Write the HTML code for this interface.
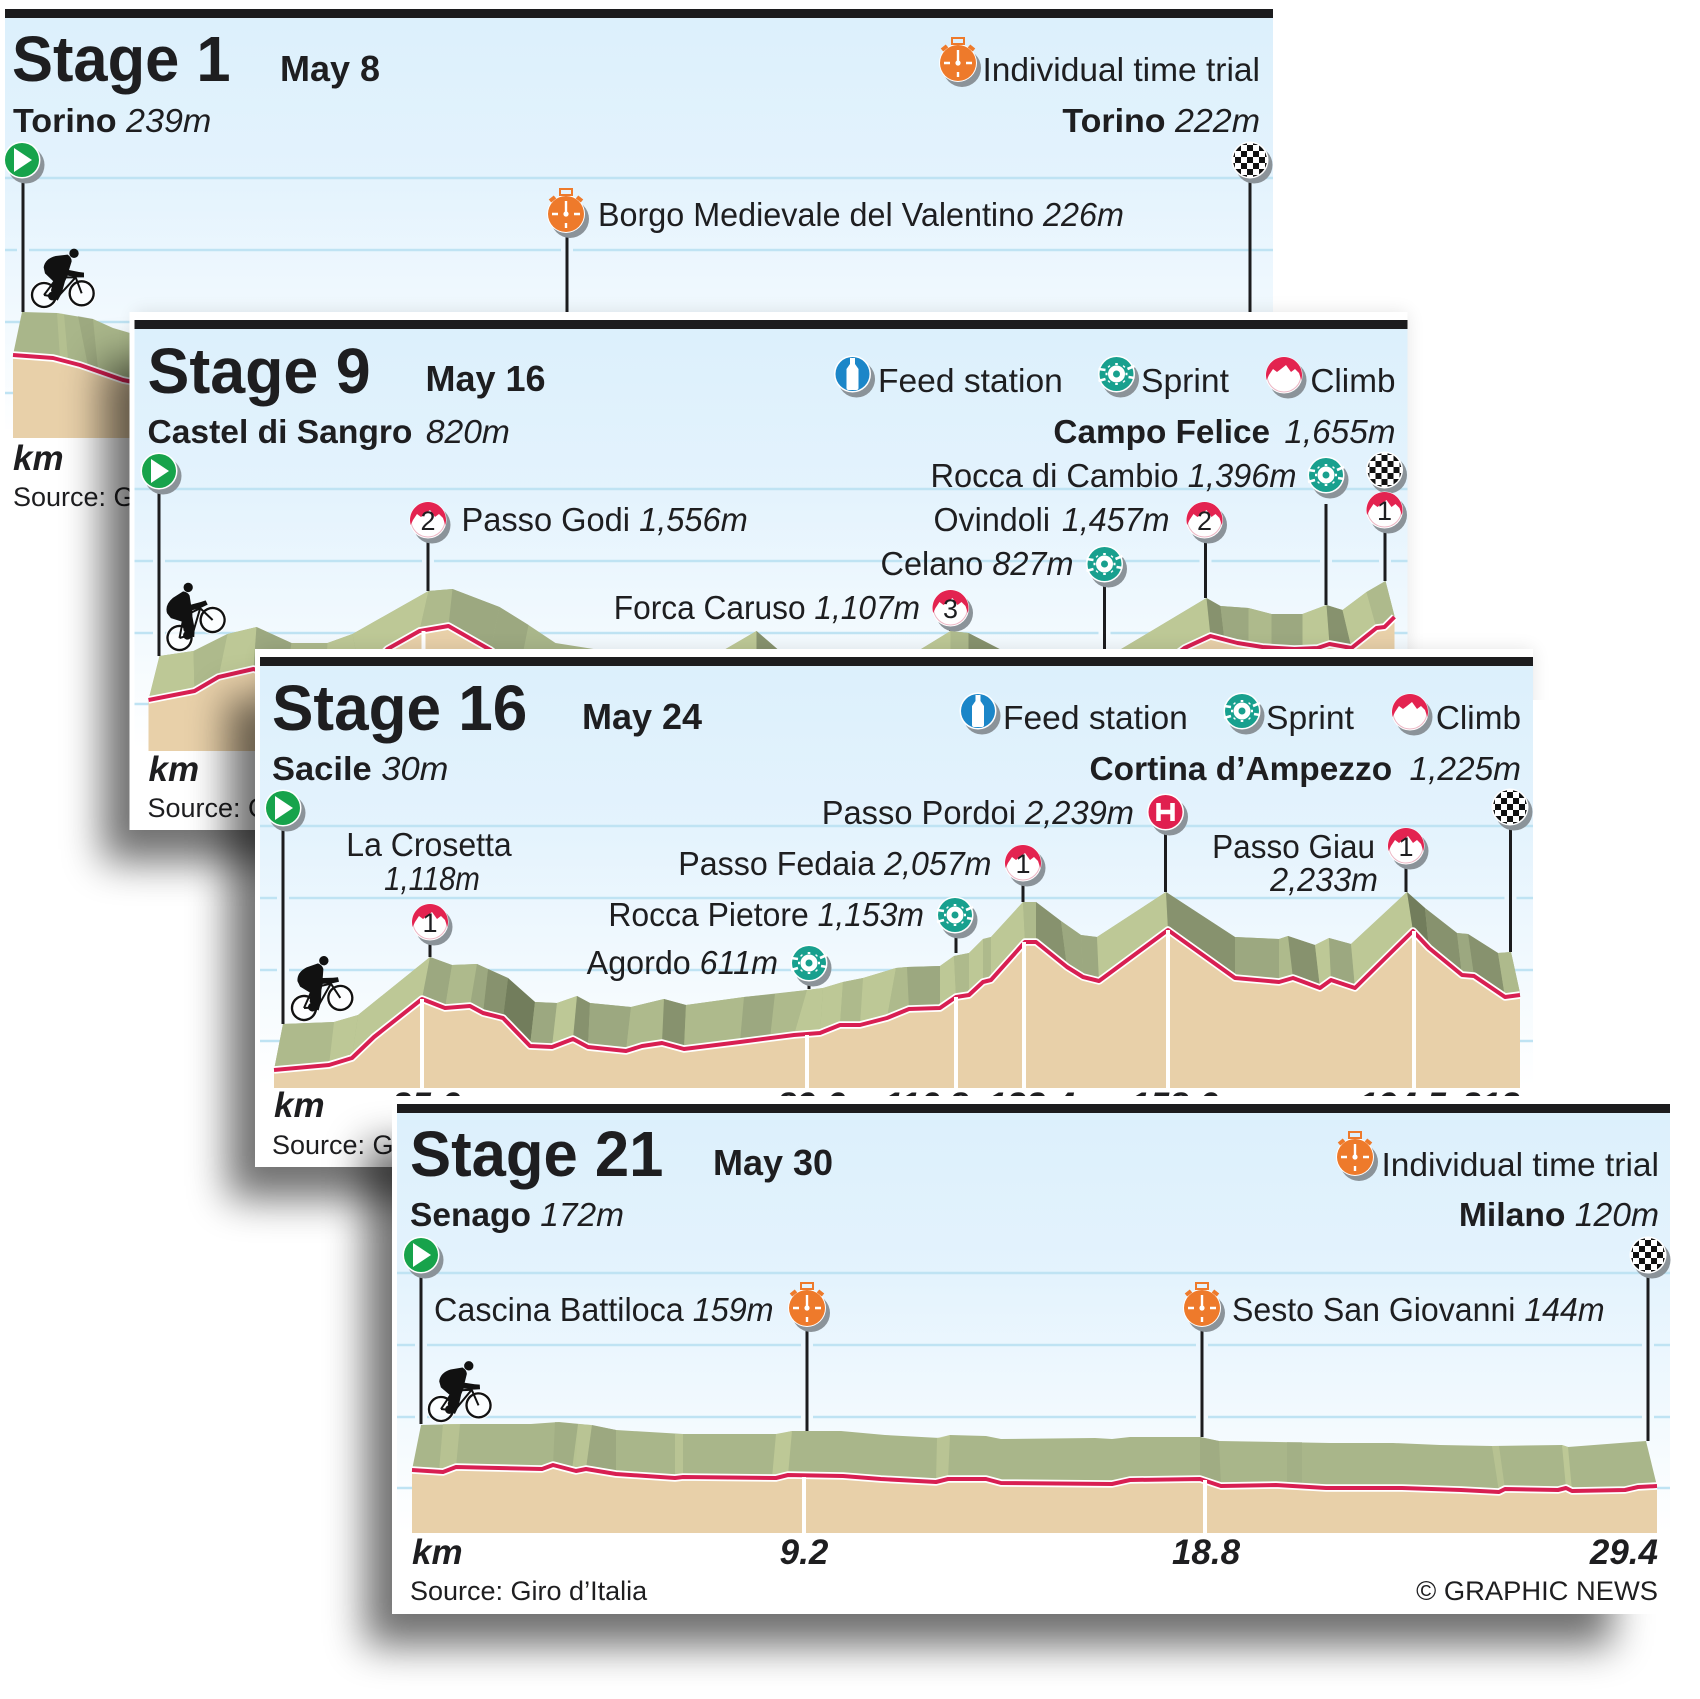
<!DOCTYPE html>
<html><head><meta charset="utf-8"><title>Giro stages</title>
<style>
html,body{margin:0;padding:0;background:#fff}
svg{display:block;font-family:"Liberation Sans",sans-serif}
text{fill:#1e1e20}
.h1{font-size:64px;font-weight:700}
.dt{font-size:36px;font-weight:700}
.r{font-size:33px}
.b{font-weight:700}
.i{font-style:italic}
.ax{font-size:35px;font-weight:700;font-style:italic}
.s{font-size:27px}
.d{font-size:27px;text-anchor:middle}
.e{text-anchor:end}
.m{text-anchor:middle}
.grid{stroke:#bfe3f3;stroke-width:2.5;fill:none}
.halo{stroke:url(#sky);stroke-width:12;fill:none}
.pole{stroke:#1c1c1e;stroke-width:3;fill:none}
.wl{stroke:#fff;stroke-width:4;fill:none}
.tan{fill:#e8d0a9}
.rw{fill:none;stroke:#fff;stroke-width:7.5;stroke-linejoin:round}
.rl{fill:none;stroke:#d81f52;stroke-width:4;stroke-linejoin:round}
.a{fill:#bdc896}.k{fill:#aeba8c}.c{fill:#9ca880}.n{fill:#87926e}.x{fill:#727d5c}
.base{fill:#a9b68a}
</style></head><body>
<svg xmlns="http://www.w3.org/2000/svg" width="1700" height="1699" viewBox="0 0 1700 1699">
<defs>
<linearGradient id="sky" gradientUnits="userSpaceOnUse" x1="0" y1="9" x2="0" y2="429">
<stop offset="0" stop-color="#dcf0fc"/><stop offset=".4" stop-color="#e4f3fd"/><stop offset=".7" stop-color="#f1f9fe"/><stop offset="1" stop-color="#fff"/>
</linearGradient>
<filter id="blur" filterUnits="userSpaceOnUse" x="-200" y="-100" width="1800" height="800"><feGaussianBlur stdDeviation="20"/></filter>
<filter id="blur2" filterUnits="userSpaceOnUse" x="-200" y="-100" width="1800" height="800"><feGaussianBlur stdDeviation="9"/></filter>
<pattern id="chk" patternUnits="userSpaceOnUse" x="-3" y="-3" width="12" height="12"><rect width="12" height="12" fill="#fff"/><rect width="6" height="6" fill="#111"/><rect x="6" y="6" width="6" height="6" fill="#111"/></pattern>
<clipPath id="p1clip"><rect x="7" y="-20" width="1400" height="560"/></clipPath>
<g id="start"><circle cx="4" cy="5" r="18.5" fill="#8b9399"/><circle r="18.5" fill="#fff"/><circle r="17" fill="#17a34b"/><polygon points="-8,-12 10,0 -8,12" fill="#fff"/></g>
<g id="finish"><circle cx="4" cy="5" r="18.5" fill="#8b9399"/><circle r="18.5" fill="#fff"/><circle r="17" fill="url(#chk)"/></g>
<g id="climb"><circle cx="4" cy="5" r="18.5" fill="#8b9399"/><circle r="18.5" fill="#fff"/><circle r="17" fill="#fff" stroke="#ecb6c4" stroke-width="1"/><path d="M-17.300,5 A18,18 0 1 1 17.300,5 L15,-2 L11,-6 L7,-3 L2,-10 L-3,-6 L-7,-3 L-11,-6 L-15,0 Z" fill="#e32350"/></g>
<g id="hc"><circle cx="4" cy="5" r="18.5" fill="#8b9399"/><circle r="18.5" fill="#fff"/><circle r="17" fill="#e0204f"/><path d="M-7,-9V9M7,-9V9M-7,0H7" stroke="#fff" stroke-width="4.5" fill="none"/></g>
<g id="sprint"><circle cx="4" cy="5" r="18.5" fill="#8b9399"/><circle r="18.5" fill="#fff"/><circle r="17" fill="#18a08e"/><circle r="6" fill="none" stroke="#fff" stroke-width="5"/><circle r="2.5" fill="#18a08e"/><path d="M0,-11V-9M8,-8L7,-7M-8,-8L-7,-7M0,9V11M8,8L7,7M-8,8L-7,7M-11,0H-9M9,0H11M11,-5L18,-8M12,3L18,4M-11,-4L-18,-5M-11,5L-18,7" stroke="#fff" stroke-width="2.6" fill="none"/></g>
<g id="feed"><circle cx="4" cy="5" r="18.5" fill="#8b9399"/><circle r="18.5" fill="#fff"/><circle r="17" fill="#1b86c8"/><path d="M-2.500,-16H2.500V-10L6,-5V14Q6,16 4,16H-4Q-6,16 -6,14V-5L-2.500,-10Z" fill="#fff"/></g>
<g id="watch"><circle cx="4" cy="5" r="19" fill="#8b9399"/><circle r="19" fill="#fff"/><circle r="18" fill="#ee7a2b"/><rect x="-6" y="-25" width="12" height="6" fill="none" stroke="#ee7a2b" stroke-width="2"/><path d="M-16,-13L-11,-17M16,-13L11,-17" stroke="#ee7a2b" stroke-width="4"/><path d="M0,0V-13M-14,0H-8M8,0H14M0,9V14" stroke="#fff" stroke-width="2.4" fill="none"/><circle r="2.600" fill="#fff"/></g>
<g id="bike"><g transform="scale(.3333) translate(-65,-175)">
<circle cx="65" cy="175" r="43" fill="#fff" fill-opacity=".75"/><circle cx="178" cy="170" r="43" fill="#fff" fill-opacity=".75"/>
<circle cx="65" cy="175" r="36" fill="none" stroke="#111" stroke-width="7"/><circle cx="178" cy="170" r="36" fill="none" stroke="#111" stroke-width="7"/>
<path d="M65,175L105,122L160,122L178,170M105,122L105,182L65,175M105,182L160,122M160,122L165,108" fill="none" stroke="#111" stroke-width="6"/>
<path d="M64,92Q68,66 100,58L136,54Q148,62 148,74L140,100L170,106L185,108L185,122L165,122L136,117L128,134L118,170L106,192L90,181L86,160L94,135L68,110Z" fill="#111"/>
<circle cx="155" cy="50" r="14" fill="#111"/><circle cx="90" cy="178" r="13" fill="#111"/></g></g>
</defs>

<!-- ============ STAGE 1 ============ -->
<g transform="translate(-2,9)" clip-path="url(#p1clip)">
<rect x="0" y="0" width="1275" height="420" fill="url(#sky)"/>
<path class="grid" d="M0 169H1275M0 241H1275M0 313H1275M0 384H1275"/>
<path class="halo" d="M25 170V303M569 225V303"/>
<rect x="0" y="0" width="1275" height="9"  fill="#1c1c1e"/>
<polygon class="base" points="24,303 59,304 95,310 115,319 132,324 220,345 220,429 15,429 15,346"/>
<polygon class="a" points="59,304 66,305 70,350 62,349" opacity=".55"/>
<polygon class="n" points="80,307 95,310 100,360 90,357" opacity=".35"/>
<polygon class="tan" points="15,429 15,346 55,349 82,356 125,371 135,373 220,395 220,429"/>
<polyline class="rw" points="15,346 55,349 82,356 125,371 135,373 220,395"/>
<polyline class="rl" points="15,346 55,349 82,356 125,371 135,373 220,395"/>
<path class="pole" d="M25 170V303M569 225V303M1252 170V303"/>
<use href="#bike" transform="translate(46,286)"/>
<use href="#start" x="24" y="151"/><use href="#finish" x="1252" y="151"/>
<use href="#watch" x="568" y="205"/><use href="#watch" x="960" y="54"/>
<text class="h1" transform="translate(14,72) scale(.96,1)">Stage 1</text>
<text class="dt" x="282" y="72">May 8</text>
<text class="r" transform="translate(15,123) scale(1.034,1)"><tspan class="b">Torino</tspan> <tspan class="i">239m</tspan></text>
<text class="r e" transform="translate(1262,72) scale(1.016,1)">Individual time trial</text>
<text class="r e" transform="translate(1262,123) scale(1.03,1)"><tspan class="b">Torino</tspan> <tspan class="i">222m</tspan></text>
<text class="r" transform="translate(600,217) scale(.98,1)">Borgo Medievale del Valentino <tspan class="i">226m</tspan></text>
<text class="ax" x="15" y="461">km</text>
<text class="s" x="15" y="497">Source: Giro d’Italia</text>
</g>

<!-- ============ STAGE 9 ============ -->
<rect x="134.500" y="312" width="1273" height="518" fill="#000" opacity=".1" filter="url(#blur2)"/>
<g transform="translate(134.500,320)">
<rect x="-32" y="40" width="1247" height="502" fill="#000" opacity=".56" filter="url(#blur)"/>
<rect x="-5" y="-8" width="1278" height="518" fill="#fff"/>
<rect x="0" y="9" width="1273" height="420" fill="url(#sky)"/>
<path class="grid" d="M0 169H1273M0 241H1273M0 313H1273M0 384H1273"/>
<path class="halo" d="M24.500 170V336M293.500 219V271M816 306V311M970 264V330M1071 219V278M1191.500 184V285M1250.500 209V261"/>
<rect x="0" y="0" width="1273" height="9" fill="#1c1c1e"/>
<polygon class="base" points="25,336 59,331 93,314 122,307 157,323 193,323 218,314 294,271 318,269 365,287 394,305 421,323 459,329 586,332 622,311 644,330 785,330 816,311 834,313 867,330 985,330 1072,278 1086,286 1114,288 1137,294 1168,294 1192,285 1208,290 1232,272 1251,261 1260,296 1260,431 14,431 14,380"/>
<polygon class="a" points="25,336 59,331 60,371 14,380"/>
<polygon class="k" points="59,331 93,314 84,357 60,371"/>
<polygon class="a" points="93,314 122,307 119,349 84,357"/>
<polygon class="c" points="122,307 157,323 150,365 119,349"/>
<polygon class="k" points="157,323 193,323 190,365 150,365"/>
<polygon class="a" points="193,323 218,314 225,350 190,365"/>
<polygon class="a" points="218,314 294,271 285,311 225,350"/>
<polygon class="k" points="294,271 318,269 314,306 285,311"/>
<polygon class="c" points="318,269 365,287 356,330 314,306"/>
<polygon class="c" points="365,287 394,305 385,350 356,330"/>
<polygon class="a" points="586,332 622,311 622,352 586,372"/>
<polygon class="n" points="622,311 644,330 644,370 622,352"/>
<polygon class="a" points="785,330 816,311 816,352 785,372"/>
<polygon class="k" points="816,311 834,313 834,354 816,352"/>
<polygon class="n" points="834,313 867,330 867,372 834,354"/>
<polygon class="a" points="985,330 1072,278 1076,316 1000,365"/>
<polygon class="n" points="1072,278 1086,286 1090,320 1076,316"/>
<polygon class="c" points="1086,286 1114,288 1114,326 1090,320"/>
<polygon class="k" points="1114,288 1137,294 1137,332 1114,326"/>
<polygon class="c" points="1137,294 1168,294 1168,332 1137,332"/>
<polygon class="a" points="1168,294 1192,285 1195,324 1168,332"/>
<polygon class="n" points="1192,285 1208,290 1217,328 1195,324"/>
<polygon class="a" points="1208,290 1232,272 1242,308 1217,328"/>
<polygon class="k" points="1232,272 1251,261 1260,296 1242,308"/>
<polygon class="tan" points="14,431 14,380 60,371 84,357 119,349 150,360 200,385 253,329 285,311 314,306 356,330 400,365 1000,365 1050,328 1076,316 1103,323 1128,327 1160,329 1183,328 1195,324 1217,328 1242,308 1250,307 1260,297 1260,431"/>
<polyline class="rw" points="14,380 60,371 84,357 119,349 150,360 200,385 253,329 285,311 314,306 356,330 400,365 1000,365 1050,328 1076,316 1103,323 1128,327 1160,329 1183,328 1195,324 1217,328 1242,308 1250,307 1260,297"/>
<polyline class="rl" points="14,380 60,371 84,357 119,349 150,360 200,385 253,329 285,311 314,306 356,330 400,365 1000,365 1050,328 1076,316 1103,323 1128,327 1160,329 1183,328 1195,324 1217,328 1242,308 1250,307 1260,297"/>
<path class="wl" d="M289 311V431"/>
<path class="pole" d="M24.500 170V336M293.500 219V271M816 306V311M970 264V330M1071 219V278M1191.500 184V285M1250.500 209V261"/>
<use href="#bike" transform="translate(45,318) rotate(-26)"/>
<use href="#start" x="24.500" y="151"/>
<use href="#feed" x="718" y="54"/><use href="#sprint" x="982" y="54"/><use href="#climb" x="1149.500" y="55"/>
<use href="#climb" x="293.500" y="200"/><text class="d" x="293.500" y="210">2</text>
<use href="#climb" x="816" y="288"/><text class="d" x="816" y="298">3</text>
<use href="#sprint" x="970" y="244"/>
<use href="#climb" x="1070" y="200"/><text class="d" x="1070" y="210">2</text>
<use href="#sprint" x="1191.500" y="155"/>
<use href="#finish" x="1250" y="150"/>
<use href="#climb" x="1250" y="190"/><text class="d" x="1250" y="200">1</text>
<text class="h1" transform="translate(13,73) scale(.98,1)">Stage 9</text>
<text class="dt" x="291" y="71">May 16</text>
<text class="r" transform="translate(13,123) scale(1.018,1)"><tspan class="b">Castel di Sangro</tspan> <tspan class="i" dx="4">820m</tspan></text>
<text class="r" transform="translate(743.500,72) scale(1.018,1)">Feed station</text>
<text class="r" transform="translate(1006.500,72) scale(1.02,1)">Sprint</text>
<text class="r e" transform="translate(1261,72) scale(1.01,1)">Climb</text>
<text class="r e" transform="translate(1261,123) scale(1.01,1)"><tspan class="b">Campo Felice</tspan> <tspan class="i" dx="5">1,655m</tspan></text>
<text class="r e" transform="translate(1162,167) scale(.988,1)">Rocca di Cambio <tspan class="i">1,396m</tspan></text>
<text class="r e" transform="translate(1035,211) scale(.978,1)">Ovindoli <tspan class="i" dx="3">1,457m</tspan></text>
<text class="r e" transform="translate(939,255) scale(.983,1)">Celano <tspan class="i">827m</tspan></text>
<text class="r e" transform="translate(785.500,299) scale(.96,1)">Forca Caruso <tspan class="i">1,107m</tspan></text>
<text class="r" transform="translate(327,211) scale(.988,1)">Passo Godi <tspan class="i">1,556m</tspan></text>
<text class="ax" x="14" y="461">km</text>
<text class="s" x="13" y="497">Source: Giro d’Italia</text>
</g>

<!-- ============ STAGE 16 ============ -->
<rect x="260" y="649" width="1273" height="518" fill="#000" opacity=".1" filter="url(#blur2)"/>
<g transform="translate(260,657)">
<rect x="-32" y="40" width="1247" height="502" fill="#000" opacity=".56" filter="url(#blur)"/>
<rect x="-5" y="-8" width="1278" height="518" fill="#fff"/>
<rect x="0" y="9" width="1273" height="420" fill="url(#sky)"/>
<path class="grid" d="M0 169H1273M0 241H1273M0 313H1273M0 384H1273"/>
<path class="halo" d="M23 170V367M905.500 174V235M1250.500 169V295"/>
<rect x="0" y="0" width="1273" height="9" fill="#1c1c1e"/>
<polygon class="base" points="23,367 74,365 98,358 170,300 192,308 217,307 228,312 248,321 275,345 297,346 317,339 330,346 371,350 404,342 426,348 484,340 547,333 563,331 583,325 603,321 636,311 647,310 680,309 694,299 709,296 723,282 731,280 763,245 776,245 801,264 821,278 837,280 906,235 975,280 1019,282 1028,279 1055,288 1069,281 1091,287 1147,235 1165,251 1197,276 1208,277 1238,296 1251,295 1260,336 1260,431 14,431 14,413"/>
<polygon class="k" points="23,367 74,365 69,408 14,413"/>
<polygon class="a" points="74,365 98,358 92,401 69,408"/>
<polygon class="a" points="98,358 170,300 162,342 92,401"/>
<polygon class="c" points="170,300 192,308 185,351 162,342"/>
<polygon class="k" points="192,308 217,307 210,349 185,351"/>
<polygon class="c" points="217,307 228,312 223,356 210,349"/>
<polygon class="n" points="228,312 248,321 243,361 223,356"/>
<polygon class="x" points="248,321 275,345 270,389 243,361"/>
<polygon class="c" points="275,345 297,346 292,390 270,389"/>
<polygon class="a" points="297,346 317,339 313,382 292,390"/>
<polygon class="n" points="317,339 330,346 328,390 313,382"/>
<polygon class="c" points="330,346 371,350 366,394 328,390"/>
<polygon class="k" points="371,350 404,342 402,386 366,394"/>
<polygon class="n" points="404,342 426,348 424,392 402,386"/>
<polygon class="k" points="426,348 484,340 480,385 424,392"/>
<polygon class="c" points="484,340 515,337 510,382 480,385"/>
<polygon class="k" points="515,337 547,333 534,378 510,382"/>
<polygon class="a" points="547,333 563,331 560,376 534,378"/>
<polygon class="a" points="563,331 583,325 580,368 560,376"/>
<polygon class="k" points="583,325 603,321 600,368 580,368"/>
<polygon class="a" points="603,321 636,311 627,361 600,368"/>
<polygon class="k" points="636,311 647,310 649,352 627,361"/>
<polygon class="c" points="647,310 680,309 680,351 649,352"/>
<polygon class="a" points="680,309 694,299 696,340 680,351"/>
<polygon class="k" points="694,299 709,296 709,338 696,340"/>
<polygon class="a" points="709,296 723,282 723,325 709,338"/>
<polygon class="k" points="723,282 731,280 731,323 723,325"/>
<polygon class="a" points="731,280 763,245 765,285 731,323"/>
<polygon class="k" points="763,245 776,245 776,285 765,285"/>
<polygon class="n" points="776,245 801,264 807,310 776,285"/>
<polygon class="c" points="801,264 821,278 823,320 807,310"/>
<polygon class="c" points="821,278 837,280 839,324 823,320"/>
<polygon class="a" points="837,280 906,235 908,273 839,324"/>
<polygon class="n" points="906,235 975,280 975,321 908,273"/>
<polygon class="c" points="975,280 1019,282 1019,325 975,321"/>
<polygon class="k" points="1019,282 1028,279 1033,321 1019,325"/>
<polygon class="n" points="1028,279 1055,288 1060,331 1033,321"/>
<polygon class="a" points="1055,288 1069,281 1071,323 1060,331"/>
<polygon class="c" points="1069,281 1091,287 1095,331 1071,323"/>
<polygon class="a" points="1091,287 1147,235 1153,274 1095,331"/>
<polygon class="x" points="1147,235 1165,251 1169,291 1153,274"/>
<polygon class="n" points="1165,251 1197,276 1202,318 1169,291"/>
<polygon class="c" points="1197,276 1208,277 1214,319 1202,318"/>
<polygon class="n" points="1208,277 1238,296 1245,340 1214,319"/>
<polygon class="k" points="1238,296 1251,295 1260,336 1245,340"/>
<polygon class="tan" points="14,431 14,413 69,408 92,401 114,380 162,342 185,351 210,349 223,356 243,361 270,389 292,390 313,382 328,390 366,394 382,389 402,386 424,392 480,385 534,378 560,376 580,368 600,368 627,361 649,352 680,351 696,340 709,338 723,325 731,323 765,285 776,285 807,310 823,320 839,324 908,273 975,321 1019,325 1033,321 1060,331 1071,323 1095,331 1153,274 1169,291 1202,318 1214,319 1245,340 1260,338 1260,431"/>
<polyline class="rw" points="14,413 69,408 92,401 114,380 162,342 185,351 210,349 223,356 243,361 270,389 292,390 313,382 328,390 366,394 382,389 402,386 424,392 480,385 534,378 560,376 580,368 600,368 627,361 649,352 680,351 696,340 709,338 723,325 731,323 765,285 776,285 807,310 823,320 839,324 908,273 975,321 1019,325 1033,321 1060,331 1071,323 1095,331 1153,274 1169,291 1202,318 1214,319 1245,340 1260,338"/>
<polyline class="rl" points="14,413 69,408 92,401 114,380 162,342 185,351 210,349 223,356 243,361 270,389 292,390 313,382 328,390 366,394 382,389 402,386 424,392 480,385 534,378 560,376 580,368 600,368 627,361 649,352 680,351 696,340 709,338 723,325 731,323 765,285 776,285 807,310 823,320 839,324 908,273 975,321 1019,325 1033,321 1060,331 1071,323 1095,331 1153,274 1169,291 1202,318 1214,319 1245,340 1260,338"/>
<path class="wl" d="M162 342V431M547 378V431M696 340V431M764 285V431M908 273V431M1154 274V431"/>
<path class="pole" d="M23 170V367M170 284V300M549 325V332M696 278V296M763 225V245M905.500 174V235M1146 208V235M1250.500 169V295"/>
<use href="#bike" transform="translate(44,351) rotate(-13)"/>
<use href="#start" x="23" y="151"/>
<use href="#feed" x="718" y="54"/><use href="#sprint" x="982" y="54"/><use href="#climb" x="1150" y="55"/>
<use href="#climb" x="170" y="265"/><text class="d" x="170" y="275">1</text>
<use href="#sprint" x="549" y="306"/>
<use href="#sprint" x="695" y="258"/>
<use href="#climb" x="763" y="206"/><text class="d" x="763" y="216">1</text>
<use href="#hc" x="905.500" y="155"/>
<use href="#climb" x="1146" y="189"/><text class="d" x="1146" y="199">1</text>
<use href="#finish" x="1250" y="150"/>
<text class="h1" transform="translate(12,73) scale(.97,1)">Stage 16</text>
<text class="dt" x="322" y="72">May 24</text>
<text class="r" transform="translate(12,123) scale(1.045,1)"><tspan class="b">Sacile</tspan> <tspan class="i">30m</tspan></text>
<text class="r" transform="translate(743,72) scale(1.018,1)">Feed station</text>
<text class="r" transform="translate(1006,72) scale(1.02,1)">Sprint</text>
<text class="r e" transform="translate(1261,72) scale(1.01,1)">Climb</text>
<text class="r e" transform="translate(1261,123) scale(1.013,1)"><tspan class="b">Cortina d’Ampezzo</tspan> <tspan class="i" dx="8">1,225m</tspan></text>
<text class="r e" transform="translate(874,167) scale(.99,1)">Passo Pordoi <tspan class="i">2,239m</tspan></text>
<text class="r m" transform="translate(169,199) scale(.97,1)">La Crosetta</text>
<text class="r i m" transform="translate(172,233) scale(.89,1)">1,118m</text>
<text class="r e" transform="translate(731.500,218) scale(.976,1)">Passo Fedaia <tspan class="i">2,057m</tspan></text>
<text class="r e" transform="translate(664,269) scale(.967,1)">Rocca Pietore <tspan class="i">1,153m</tspan></text>
<text class="r e" transform="translate(518,317) scale(.978,1)">Agordo <tspan class="i">611m</tspan></text>
<text class="r e" transform="translate(1115,201) scale(.955,1)">Passo Giau</text>
<text class="r i e" transform="translate(1118,234) scale(.98,1)">2,233m</text>
<text class="ax" x="14" y="460">km</text>
<text class="ax m" x="166" y="460">35.6</text>
<text class="ax m" x="551" y="460">89.6</text>
<text class="ax m" x="666" y="460">116.8</text>
<text class="ax m" x="771" y="460">133.4</text>
<text class="ax m" x="914" y="460">158.6</text>
<text class="ax m" x="1142" y="460">194.5</text>
<text class="ax e" x="1260" y="460">212</text>
<text class="s" x="12" y="497">Source: Giro d’Italia</text>
</g>

<!-- ============ STAGE 21 ============ -->
<rect x="397" y="1096" width="1273" height="518" fill="#000" opacity=".1" filter="url(#blur2)"/>
<g transform="translate(397,1104)">
<rect x="-32" y="40" width="1247" height="502" fill="#000" opacity=".56" filter="url(#blur)"/>
<rect x="-5" y="-8" width="1278" height="518" fill="#fff"/>
<rect x="0" y="9" width="1273" height="420" fill="url(#sky)"/>
<path class="grid" d="M0 169H1273M0 241H1273M0 313H1273M0 384H1273"/>
<path class="halo" d="M24 170V320M410 225V327M805 225V333M1251 170V337"/>
<rect x="0" y="0" width="1273" height="9" fill="#1c1c1e"/>
<polygon class="base" points="24,321 65,320 134,320 162,318 193,321 219,326 286,330 383,330 395,327 444,327 488,331 543,334 553,331 589,332 604,335 698,334 715,335 733,333 803,333 822,337 933,339 996,339 1043,341 1095,342 1165,341 1171,343 1249,337 1260,382 1260,429 15,429 15,366"/>
<polygon class="a" points="46,320 63,320 59,363 42,367" opacity=".7"/>
<polygon class="c" points="158,318 181,320 179,367 156,361" opacity=".6"/>
<polygon class="a" points="181,320 195,321 189,365 175,366" opacity=".8"/>
<polygon class="c" points="195,321 219,326 219,370 189,365"/>
<polygon class="a" points="278,330 286,330 286,373 278,374" opacity=".8"/>
<polygon class="a" points="379,330 395,327 391,371 375,374"/>
<polygon class="a" points="540,334 553,331 551,375 539,378" opacity=".8"/>
<polygon class="c" points="803,333 822,337 824,382 803,375" opacity=".7"/>
<polygon class="c" points="890,338 905,338 905,382 890,381" opacity=".4"/>
<polygon class="a" points="1095,342 1102,342 1108,385 1102,388" opacity=".7"/>
<polygon class="a" points="1165,341 1171,343 1175,387 1169,384"/>
<polygon class="tan" points="15,429 15,366 46,368 59,363 145,365 156,361 179,367 189,365 219,370 278,374 286,373 379,374 391,371 446,372 484,375 539,378 551,375 589,375 604,379 715,380 733,376 803,375 824,382 879,381 929,384 1005,384 1064,386 1102,388 1108,385 1161,386 1169,384 1175,387 1228,386 1241,383 1260,382 1260,429"/>
<polyline class="rw" points="15,366 46,368 59,363 145,365 156,361 179,367 189,365 219,370 278,374 286,373 379,374 391,371 446,372 484,375 539,378 551,375 589,375 604,379 715,380 733,376 803,375 824,382 879,381 929,384 1005,384 1064,386 1102,388 1108,385 1161,386 1169,384 1175,387 1228,386 1241,383 1260,382"/>
<polyline class="rl" points="15,366 46,368 59,363 145,365 156,361 179,367 189,365 219,370 278,374 286,373 379,374 391,371 446,372 484,375 539,378 551,375 589,375 604,379 715,380 733,376 803,375 824,382 879,381 929,384 1005,384 1064,386 1102,388 1108,385 1161,386 1169,384 1175,387 1228,386 1241,383 1260,382"/>
<path class="wl" d="M407 373V429M808 376V429"/>
<path class="pole" d="M24 170V320M410 225V327M805 225V333M1251 170V337"/>
<use href="#bike" transform="translate(44,305) rotate(-3)"/>
<use href="#start" x="24" y="151"/><use href="#finish" x="1251" y="151"/>
<use href="#watch" x="410" y="204"/><use href="#watch" x="805" y="204"/><use href="#watch" x="958" y="53"/>
<text class="h1" transform="translate(13,72) scale(.963,1)">Stage 21</text>
<text class="dt" x="316" y="71">May 30</text>
<text class="r" transform="translate(13,122) scale(1.015,1)"><tspan class="b">Senago</tspan> <tspan class="i">172m</tspan></text>
<text class="r e" transform="translate(1262,72) scale(1.016,1)">Individual time trial</text>
<text class="r e" transform="translate(1262,122) scale(1.02,1)"><tspan class="b">Milano</tspan> <tspan class="i">120m</tspan></text>
<text class="r" transform="translate(37,217) scale(.98,1)">Cascina Battiloca <tspan class="i">159m</tspan></text>
<text class="r" transform="translate(835,217) scale(.972,1)">Sesto San Giovanni <tspan class="i">144m</tspan></text>
<text class="ax" x="15" y="460">km</text>
<text class="ax m" x="407" y="460">9.2</text>
<text class="ax m" x="809" y="460">18.8</text>
<text class="ax e" x="1261" y="460">29.4</text>
<text class="s" x="13" y="496">Source: Giro d’Italia</text>
<text class="s e" transform="translate(1261,496) scale(1.013,1)">© GRAPHIC NEWS</text>
</g>
</svg>
</body></html>
